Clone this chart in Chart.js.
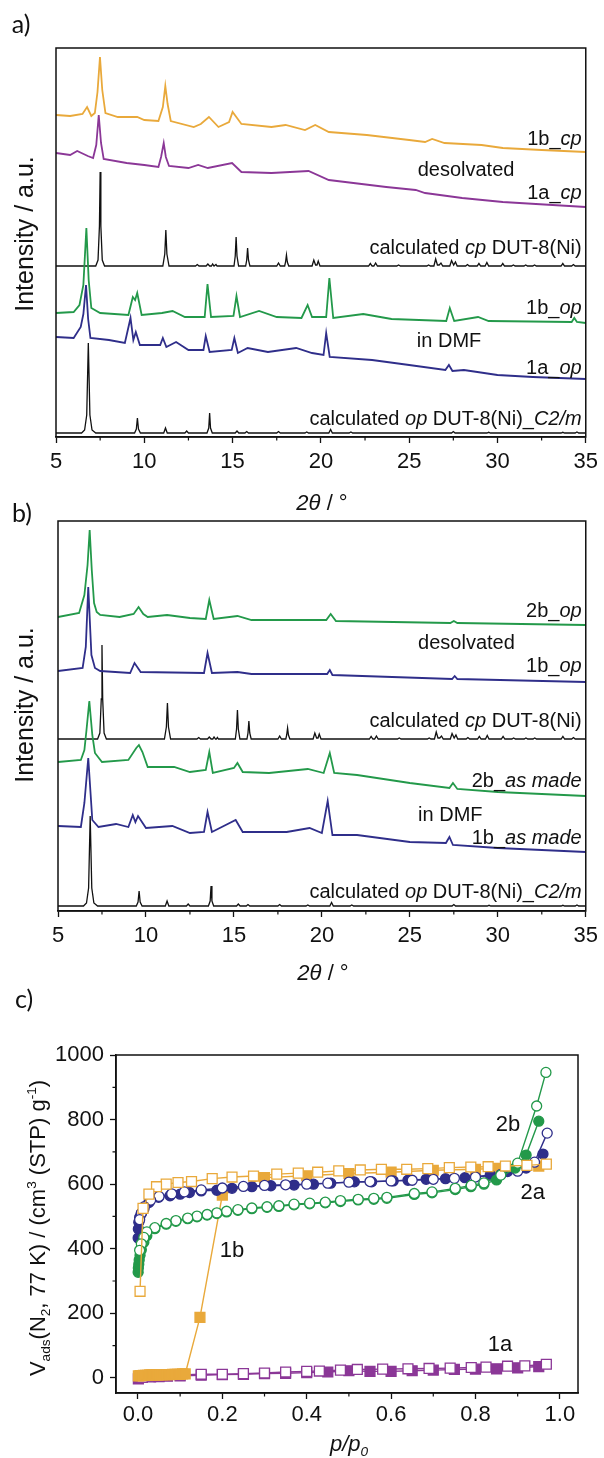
<!DOCTYPE html>
<html>
<head>
<meta charset="utf-8">
<script src="https://cdn.jsdelivr.net/npm/chart.js@4.4.0/dist/chart.umd.min.js"></script>
<style>
  html, body { margin: 0; padding: 0; background: #fff; }
  #wrap { position: relative; width: 604px; height: 1458px; overflow: hidden; }
  canvas { position: absolute; left: 0; }
</style>
</head>
<body>
<div id="wrap">
  <canvas id="chartA" width="604" height="520" style="top:0px"></canvas>
  <canvas id="chartB" width="604" height="490" style="top:500px"></canvas>
  <canvas id="chartC" width="604" height="473" style="top:985px"></canvas>
</div>
<script>
// ---- XRD patterns: [2theta, intensity a.u.] ----
const XRD_TICKS = [5, 10, 15, 20, 25, 30, 35];
const XRD_MINOR = [7.5, 12.5, 17.5, 22.5, 27.5, 32.5];

const A_1B_CP = [[5,37],[5.8,36],[6.5,38],[6.76,45],[7.0,36],[7.2,39],[7.35,60],[7.49,95],[7.62,62],[7.8,39],[8.5,35],[9.6,35],[10.0,32],[10.8,31],[11.05,45],[11.19,66],[11.32,48],[11.5,31],[12.8,25],[13.2,28],[13.66,35],[14.2,25],[14.8,30],[15.0,40],[15.5,28],[17.2,25],[18.0,27],[19.1,22],[19.68,27],[20.45,20],[22.6,17],[25.0,12],[25.9,10],[26.3,13],[27.0,9],[29.1,7],[30.3,4],[32.5,2],[35,0]];
const A_1A_CP = [[5,54],[5.8,52],[6.2,56],[6.8,51],[7.1,49],[7.28,62],[7.42,92],[7.55,64],[7.7,48],[9.0,44],[10.0,42],[10.8,40],[10.95,50],[11.1,64],[11.22,50],[11.4,41],[12.5,39],[13.05,42],[13.6,39],[14.97,44],[15.5,35],[17.2,34],[19.3,36],[20.45,27],[23.7,20],[25.37,17],[25.9,14],[28,9],[30.3,5],[35,0]];
const A_1B_OP = [[5,10],[6.0,11],[6.33,18],[6.55,38],[6.72,95],[6.85,43],[7.0,15],[7.5,10],[9.1,8],[9.35,26],[9.48,23],[9.6,30],[9.85,8],[11.0,10],[11.6,12],[12.3,6],[13.42,6],[13.58,39],[13.78,6],[15.05,7],[15.22,27],[15.42,6],[16.5,12],[17.5,6],[18.9,5],[19.25,18],[19.5,6],[20.3,6],[20.48,45],[20.7,5],[22.4,9],[24,4],[27.1,2],[27.3,15],[27.55,2],[28.9,6],[29.5,2],[34.2,1],[34.35,5],[34.5,1],[35,0]];
const A_1A_OP = [[5,42],[6.0,41],[6.4,52],[6.55,65],[6.7,94],[6.82,60],[6.95,41],[8.0,39],[8.9,36],[9.22,61],[9.38,39],[9.52,47],[9.75,34],[10.9,34],[11.05,41],[11.25,32],[11.8,37],[12.5,29],[13.35,29],[13.48,43],[13.7,27],[14.95,29],[15.1,41],[15.3,26],[15.85,31],[17.0,27],[18.6,31],[19.5,26],[20.15,24],[20.3,46],[20.5,22],[22.9,19],[25,14],[27.05,9],[27.25,14],[27.45,8],[28.1,9],[30,4],[32,2],[35,0]];

const B_2B_OP = [[5,8],[6.2,12],[6.5,30],[6.68,60],[6.8,95],[6.92,55],[7.05,22],[7.2,13],[7.4,10],[8.5,8],[9.3,11],[9.58,18],[9.85,11],[10.1,8],[11.2,10],[12.5,7],[13.4,6],[13.6,25],[13.85,6],[15.2,9],[16,5],[20.25,5],[20.5,11],[20.8,4],[27.3,2],[27.5,4],[27.7,2],[35,0]];
const B_1B_OP = [[5,11],[6.4,14],[6.58,35],[6.72,95],[6.9,27],[7.1,14],[7.4,11],[9.1,9],[9.35,19],[9.7,10],[13.3,9],[13.5,29],[13.75,9],[15.2,10],[16,8],[20.3,8],[20.45,12],[20.6,7],[27.4,3],[27.55,6],[27.7,3],[35,0]];
const B_2B_AS = [[5,34],[6.3,36],[6.5,46],[6.62,66],[6.78,95],[6.95,61],[7.1,43],[7.5,34],[9.0,36],[9.45,48],[9.6,51],[9.8,44],[10.1,29],[11.6,29],[12.5,24],[13.4,26],[13.6,44],[13.8,23],[15.0,28],[15.2,33],[15.5,24],[17,23],[19.2,27],[20.1,23],[20.45,43],[20.7,23],[22,21],[25,13],[27.25,8],[27.45,13],[27.7,7],[30,4],[35,0]];
const B_1B_AS = [[5,26],[6.3,25],[6.5,49],[6.72,94],[6.95,32],[7.3,25],[8.3,28],[9.0,25],[9.25,37],[9.4,30],[9.55,36],[10.0,24],[11.5,26],[12.5,19],[13.3,20],[13.5,40],[13.75,20],[15.1,32],[15.5,20],[18,20],[19.3,24],[20.0,19],[20.33,51],[20.6,17],[22,17],[25,10],[27.05,9],[27.25,15],[27.45,7],[30,4],[35,0]];

const CP_CALC = [[5,0],[7.25,0],[7.38,6],[7.46,40],[7.5,94],[7.54,40],[7.62,6],[7.75,0],
  [11.05,0],[11.16,12],[11.22,36],[11.28,12],[11.4,0],
  [12.9,0],[13.0,1.5],[13.1,0],[13.5,0],[13.6,2],[13.7,0],[13.8,0],[13.87,2],[13.95,0],[14.0,0],[14.06,1.5],[14.12,0],
  [15.08,0],[15.15,10],[15.2,29],[15.25,10],[15.34,0],[15.74,0],[15.8,6],[15.85,18],[15.9,6],[15.98,0],
  [17.5,0],[17.6,3],[17.7,0],[17.95,0],[18.0,4],[18.05,11],[18.1,4],[18.18,0],
  [19.5,0],[19.6,6],[19.7,1],[19.78,1],[19.85,5],[19.95,0],
  [22.7,0],[22.8,2.5],[22.9,0],[23.0,0],[23.1,3],[23.2,0],[24.3,0],[24.4,1],[24.5,0],
  [26.0,0],[26.1,1],[26.2,0],[26.4,0],[26.5,7],[26.6,1],[26.7,1],[26.8,3],[26.9,0],
  [27.3,0],[27.4,5.5],[27.52,1],[27.62,4],[27.72,0],[28.2,0],[28.3,1.5],[28.4,0],
  [28.85,0],[28.95,2.5],[29.05,0],[29.3,0],[29.4,3.5],[29.5,0],[30.2,0],[30.3,2.5],[30.4,0],
  [30.8,0],[30.9,1],[31.0,0],[31.5,0],[31.6,1],[31.7,0],[32.0,0],[32.1,1],[32.2,0],
  [33.6,0],[33.7,2.5],[33.8,0],[34.2,0],[34.3,1.5],[34.4,0],[35,0]];
const OP_CALC = [[5,0],[6.45,0],[6.62,3],[6.74,18],[6.83,90],[6.92,18],[7.04,3],[7.25,0],
  [9.45,0],[9.55,4],[9.61,15],[9.67,4],[9.78,0],[11.1,0],[11.2,5],[11.3,0],[12.3,0],[12.4,2],[12.5,0],
  [13.55,0],[13.65,5],[13.7,20],[13.75,5],[13.85,0],[15.15,0],[15.25,2],[15.35,0],[15.7,0],[15.8,1.5],[15.9,0],
  [17.5,0],[17.6,1.5],[17.7,0],[19.1,0],[19.2,1],[19.3,0],[20.45,0],[20.55,3.5],[20.65,0],[21.6,0],[21.7,1],[21.8,0],
  [27.4,0],[27.5,1.5],[27.6,0],[29.4,0],[29.5,0.7],[29.6,0],[33.6,0],[33.7,0.7],[33.8,0],[34.4,0],[34.5,1],[34.6,0],[35,0]];

// ---- N2 isotherms at 77 K ----
const ISO_X_TICKS = [0, 0.2, 0.4, 0.6, 0.8, 1.0];
const ISO_X_MINOR = [0.1, 0.3, 0.5, 0.7, 0.9];
const ISO_Y_TICKS = [0, 200, 400, 600, 800, 1000];
const ISO_Y_MINOR = [100, 300, 500, 700, 900];

const P_1B_ADS = [0.001,0.005,0.009,0.013,0.018,0.023,0.028,0.033,0.038,0.043,0.048,0.053,0.058,0.064,0.07,0.076,0.082,0.088,0.094,0.1,0.106,0.112,0.147,0.2,0.3,0.4,0.5,0.6,0.7,0.8,0.85,0.95];
const V_1B_ADS = [6,7,7,8,8,8,9,9,9,9,9,10,10,10,10,10,11,11,11,11,12,12,187,566,620,626,633,637,643,646,649,656];
const P_1B_DES = [0.968,0.922,0.871,0.83,0.789,0.738,0.687,0.637,0.577,0.527,0.476,0.426,0.38,0.329,0.274,0.223,0.176,0.127,0.095,0.067,0.044,0.026,0.012,0.005];
const V_1B_DES = [662,658,656,654,653,651,648,646,646,644,641,637,634,631,625,622,617,608,605,600,592,569,525,268];

const P_1A_ADS = [0.001,0.01,0.03,0.05,0.07,0.1,0.15,0.2,0.25,0.3,0.35,0.4,0.45,0.5,0.55,0.6,0.65,0.7,0.75,0.8,0.85,0.9,0.95];
const V_1A_ADS = [-3,1,3,4,5,6,8,10,11,13,14,16,18,22,20,20,22,24,26,27,28,31,35];
const P_1A_DES = [0.968,0.917,0.876,0.825,0.79,0.74,0.69,0.64,0.58,0.52,0.48,0.43,0.4,0.35,0.3,0.25,0.2,0.15,0.1,0.05,0.01];
const V_1A_DES = [42,37,36,33,32,30,29,28,27,26,24,21,20,18,15,13,11,11,9,6,2];

const P_2A_ADS = [0.0005,0.001,0.002,0.004,0.008,0.014,0.026,0.049,0.076,0.1,0.122,0.15,0.187,0.223,0.27,0.315,0.37,0.416,0.457,0.513,0.554,0.605,0.64,0.683,0.729,0.775,0.835,0.876,0.92,0.96];
const V_2A_ADS = [433,461,482,497,509,522,543,559,564,569,574,579,581,587,592,595,597,600,603,607,607,610,612,615,617,620,628,639,650,693];
const P_2A_DES = [0.97,0.94,0.9,0.86,0.8,0.75,0.7,0.65,0.6,0.55,0.5,0.45,0.4,0.35,0.3,0.25,0.2,0.15,0.11,0.08,0.05,0.03,0.015,0.008,0.004];
const V_2A_DES = [758,668,640,630,622,618,615,612,610,608,606,603,600,598,596,593,588,582,576,570,562,550,530,510,490];

const P_2B_ADS = [0.0005,0.001,0.002,0.003,0.005,0.008,0.014,0.021,0.04,0.067,0.09,0.118,0.14,0.164,0.187,0.21,0.237,0.27,0.306,0.334,0.37,0.407,0.444,0.48,0.522,0.559,0.59,0.655,0.697,0.752,0.789,0.82,0.85,0.894,0.92,0.95];
const V_2B_ADS = [327,340,352,365,380,397,420,440,462,476,485,493,499,504,509,514,519,524,528,531,536,539,542,546,551,553,556,568,573,583,592,600,613,650,690,795];
const P_2B_DES = [0.967,0.945,0.9,0.86,0.82,0.79,0.752,0.697,0.655,0.59,0.559,0.522,0.48,0.444,0.407,0.37,0.334,0.306,0.27,0.237,0.21,0.187,0.164,0.14,0.118,0.09,0.067,0.04,0.021,0.014,0.008,0.004];
const V_2B_DES = [946,842,665,628,604,596,587,576,571,559,556,553,549,544,541,538,533,530,526,521,516,511,506,501,495,487,478,465,452,435,415,395];

const SANS = "'Liberation Sans', Arial, sans-serif";
const INK = '#111';
const C_YELLOW = '#e9a93b', C_PURPLE = '#8b3797', C_GREEN = '#23994a', C_NAVY = '#2f2e8a';

// draw text made of plain / italic / sub / sup pieces
function drawRich(ctx, parts, x, y, align, size, family) {
  const segs = parts.map(([t, f]) => {
    f = f || '';
    const small = f.endsWith('sub') || f === 'sup';
    const fs = small ? size * 0.62 : size;
    const font = (f.startsWith('i') ? 'italic ' : '') + fs + 'px ' + family;
    ctx.font = font;
    const dy = f.endsWith('sub') ? size * 0.22 : f === 'sup' ? -size * 0.4 : 0;
    return { t, font, dy, w: ctx.measureText(t).width };
  });
  const total = segs.reduce((s, g) => s + g.w, 0);
  let cx = align === 'right' ? x - total : align === 'center' ? x - total / 2 : x;
  const base = y + size * 0.36;
  ctx.textAlign = 'left';
  ctx.textBaseline = 'alphabetic';
  segs.forEach(g => { ctx.font = g.font; ctx.fillText(g.t, cx, base + g.dy); cx += g.w; });
}

const decoPlugin = {
  id: 'deco',
  afterDraw(chart, args, opts) {
    const ctx = chart.ctx, a = chart.chartArea;
    const xs = chart.scales.x, ys = chart.scales.y;
    ctx.save();
    ctx.strokeStyle = INK;
    ctx.lineWidth = 1.5;
    ctx.strokeRect(a.left, a.top, a.right - a.left, a.bottom - a.top);
    ctx.lineWidth = 1.2;
    ctx.beginPath();
    (opts.minorX || []).forEach(v => {
      const px = xs.getPixelForValue(v);
      ctx.moveTo(px, a.bottom); ctx.lineTo(px, a.bottom + 3.5);
    });
    (opts.minorY || []).forEach(v => {
      const py = ys.getPixelForValue(v);
      ctx.moveTo(a.left, py); ctx.lineTo(a.left - 3.5, py);
    });
    ctx.stroke();
    ctx.fillStyle = INK;
    (opts.texts || []).forEach(t => {
      let x = t.x, y = t.y;
      if (t.data) { x = xs.getPixelForValue(t.x); y = ys.getPixelForValue(t.y); }
      ctx.save();
      ctx.translate(x, y);
      if (t.rot) ctx.rotate(-Math.PI / 2);
      drawRich(ctx, t.parts, 0, 0, t.align || 'center', t.size, t.family || SANS);
      ctx.restore();
    });
    ctx.restore();
  }
};

function xrd(pairs, offset, color, width) {
  return {
    data: pairs.map(p => ({ x: p[0], y: p[1] + offset })),
    borderColor: color, borderWidth: width, pointRadius: 0, fill: false, tension: 0
  };
}

function xAxis(min, max, ticks, height, fmt, pad) {
  return {
    type: 'linear', min, max,
    afterBuildTicks: s => { s.ticks = ticks.map(v => ({ value: v })); },
    afterFit: s => { s.height = height; },
    grid: { display: true, drawOnChartArea: false, drawTicks: true, tickLength: 6, tickColor: INK, tickWidth: 1.3 },
    border: { display: true, color: INK, width: 1.5 },
    ticks: { color: INK, font: { family: SANS, size: 22 }, padding: pad, maxRotation: 0, autoSkip: false, callback: fmt }
  };
}

function xrdChart(id, datasets, padding, xHeight, yMax, texts) {
  return new Chart(document.getElementById(id), {
    type: 'line',
    data: { datasets },
    options: {
      responsive: false, animation: false, devicePixelRatio: 1, events: [],
      layout: { padding },
      scales: {
        x: xAxis(5, 35, XRD_TICKS, xHeight, v => String(v), 6),
        y: { display: false, min: 0, max: yMax }
      },
      plugins: {
        legend: { display: false }, tooltip: { enabled: false },
        deco: { minorX: XRD_MINOR, texts }
      }
    },
    plugins: [decoPlugin]
  });
}

const LBL = 20;
const R = 34.77;
const xTitle = (x, y) => ({ x, y, size: 22, parts: [['2θ ', 'i'], ['/ °', '']] });
const yTitle = (x, y) => ({ x, y, rot: true, size: 25, parts: [['Intensity / a.u.', '']] });

xrdChart('chartA', [
  xrd(A_1B_CP, 285, C_YELLOW, 1.8),
  xrd(A_1A_CP, 230, C_PURPLE, 1.8),
  xrd(A_1B_OP, 114, C_GREEN, 1.8),
  xrd(A_1A_OP, 58, C_NAVY, 1.8),
  xrd(CP_CALC, 171, INK, 1.3),
  xrd(OP_CALC, 4, INK, 1.3)
], { left: 56, top: 48, right: 17, bottom: 0 }, 83, 389, [
  { data: true, x: R, y: 299, align: 'right', size: LBL, parts: [['1b_', ''], ['cp', 'i']] },
  { data: true, x: 28.22, y: 268, size: LBL, parts: [['desolvated', '']] },
  { data: true, x: R, y: 245, align: 'right', size: LBL, parts: [['1a_', ''], ['cp', 'i']] },
  { data: true, x: R, y: 190, align: 'right', size: LBL, parts: [['calculated ', ''], ['cp', 'i'], [' DUT-8(Ni)', '']] },
  { data: true, x: R, y: 130, align: 'right', size: LBL, parts: [['1b_', ''], ['op', 'i']] },
  { data: true, x: 27.26, y: 97, size: LBL, parts: [['in DMF', '']] },
  { data: true, x: R, y: 70, align: 'right', size: LBL, parts: [['1a_', ''], ['op', 'i']] },
  { data: true, x: R, y: 19, align: 'right', size: LBL, parts: [['calculated ', ''], ['op', 'i'], [' DUT-8(Ni)_', ''], ['C2/m', 'i']] },
  { x: 21, y: 24, size: 25, family: 'Lato, sans-serif', parts: [['a)', '']] },
  yTitle(24, 234),
  xTitle(322, 502)
]);

xrdChart('chartB', [
  xrd(B_2B_OP, 286, C_GREEN, 1.8),
  xrd(B_1B_OP, 229, C_NAVY, 1.8),
  xrd(B_2B_AS, 115, C_GREEN, 1.8),
  xrd(B_1B_AS, 59, C_NAVY, 1.8),
  xrd(CP_CALC, 172, INK, 1.3),
  xrd(OP_CALC, 5, INK, 1.3)
], { left: 58, top: 21, right: 15, bottom: 0 }, 79, 390, [
  { data: true, x: R, y: 301, align: 'right', size: LBL, parts: [['2b_', ''], ['op', 'i']] },
  { data: true, x: 28.22, y: 269, size: LBL, parts: [['desolvated', '']] },
  { data: true, x: R, y: 246, align: 'right', size: LBL, parts: [['1b_', ''], ['op', 'i']] },
  { data: true, x: R, y: 191, align: 'right', size: LBL, parts: [['calculated ', ''], ['cp', 'i'], [' DUT-8(Ni)', '']] },
  { data: true, x: R, y: 131, align: 'right', size: LBL, parts: [['2b_', ''], ['as made', 'i']] },
  { data: true, x: 27.3, y: 97, size: LBL, parts: [['in DMF', '']] },
  { data: true, x: R, y: 74, align: 'right', size: LBL, parts: [['1b_', ''], ['as made', 'i']] },
  { data: true, x: R, y: 20, align: 'right', size: LBL, parts: [['calculated ', ''], ['op', 'i'], [' DUT-8(Ni)_', ''], ['C2/m', 'i']] },
  { x: 22, y: 13, size: 25, family: 'Lato, sans-serif', parts: [['b)', '']] },
  yTitle(24, 205),
  xTitle(323, 472)
]);

function iso(p, v, color, shape, filled, r) {
  return {
    data: p.map((x, i) => ({ x, y: v[i] })),
    borderColor: color, borderWidth: 1.4, backgroundColor: color,
    pointStyle: shape, pointRadius: r,
    pointBackgroundColor: filled ? color : '#fff', pointBorderColor: color, pointBorderWidth: 1.3,
    fill: false, tension: 0
  };
}

new Chart(document.getElementById('chartC'), {
  type: 'line',
  data: {
    datasets: [
      iso(P_1B_DES, V_1B_DES, C_YELLOW, 'rect', false, 7),
      iso(P_2B_DES, V_2B_DES, C_GREEN, 'circle', false, 5),
      iso(P_2B_ADS, V_2B_ADS, C_GREEN, 'circle', true, 5),
      iso(P_2A_DES, V_2A_DES, C_NAVY, 'circle', false, 5),
      iso(P_2A_ADS, V_2A_ADS, C_NAVY, 'circle', true, 5),
      iso(P_1B_ADS, V_1B_ADS, C_YELLOW, 'rect', true, 7),
      iso(P_1A_DES, V_1A_DES, C_PURPLE, 'rect', false, 7),
      iso(P_1A_ADS, V_1A_ADS, C_PURPLE, 'rect', true, 7)
    ]
  },
  options: {
    responsive: false, animation: false, devicePixelRatio: 1, events: [],
    layout: { padding: { left: 0, top: 70, right: 26, bottom: 0 } },
    scales: {
      x: xAxis(-0.052, 1.043, ISO_X_TICKS, 65, v => Number(v).toFixed(1), 3),
      y: {
        type: 'linear', min: -47, max: 1000,
        afterBuildTicks: s => { s.ticks = ISO_Y_TICKS.map(v => ({ value: v })); },
        afterFit: s => { s.width = 116; },
        grid: { display: true, drawOnChartArea: false, drawTicks: true, tickLength: 6, tickColor: INK, tickWidth: 1.3 },
        border: { display: true, color: INK, width: 1.5 },
        ticks: { color: INK, font: { family: SANS, size: 22 }, padding: 6, autoSkip: false, callback: v => String(v) }
      }
    },
    plugins: {
      legend: { display: false }, tooltip: { enabled: false },
      deco: {
        minorX: ISO_X_MINOR, minorY: ISO_Y_MINOR,
        texts: [
          { data: true, x: 0.877, y: 789, size: 22, parts: [['2b', '']] },
          { data: true, x: 0.936, y: 579, size: 22, parts: [['2a', '']] },
          { data: true, x: 0.223, y: 400, size: 22, parts: [['1b', '']] },
          { data: true, x: 0.858, y: 107, size: 22, parts: [['1a', '']] },
          { x: 24, y: 14, size: 25, family: 'Lato, sans-serif', parts: [['c)', '']] },
          { x: 37, y: 243, rot: true, size: 22, parts: [['V', ''], ['ads', 'sub'], ['(N', ''], ['2', 'sub'], [', 77 K) / (cm', ''], ['3', 'sup'], [' (STP) g', ''], ['-1', 'sup'], [')', '']] },
          { x: 349, y: 458, size: 22, parts: [['p', 'i'], ['/', 'i'], ['p', 'i'], ['0', 'isub']] }
        ]
      }
    }
  },
  plugins: [decoPlugin]
});
</script>
</body>
</html>
